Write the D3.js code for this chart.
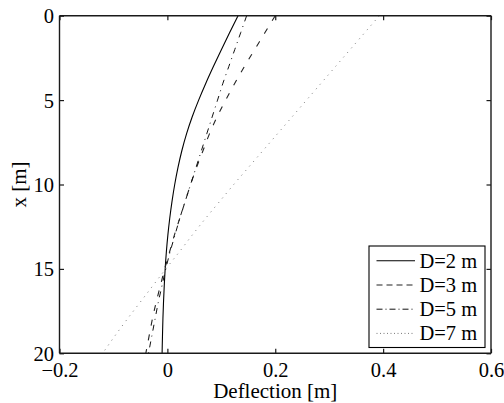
<!DOCTYPE html>
<html>
<head>
<meta charset="utf-8">
<script src="https://cdn.jsdelivr.net/npm/d3@7"></script>
<style>
  html, body { margin: 0; padding: 0; background: #fff; }
  svg { display: block; }
  text { font-family: "Liberation Serif", "Times New Roman", serif; fill: #000; }
</style>
</head>
<body>
<svg id="chart" width="504" height="403"></svg>
<script>
// ---- data ----
const depth = [0,1,2,3,4,5,6,7,8,9,10,11,12,13,14,15,16,17,18,19,20];
const defD2 = [0.131,0.1155,0.1003,0.0855,0.0713,0.058,0.0459,0.0355,0.0268,0.0196,0.0136,0.0086,0.0044,0.0009,-0.0019,-0.0041,-0.0058,-0.0072,-0.0083,-0.0091,-0.0098];
const defD3 = [0.200,0.181,0.162,0.143,0.125,0.108,0.092,0.078,0.066,0.054,0.043,0.033,0.023,0.013,0.004,-0.005,-0.013,-0.021,-0.028,-0.034,-0.040];
const defD5 = [0.147,0.136,0.125,0.114,0.103,0.093,0.083,0.073,0.063,0.053,0.043,0.033,0.023,0.014,0.005,-0.003,-0.010,-0.017,-0.023,-0.029,-0.035];
const defD7 = [0.393,0.366,0.339,0.312,0.285,0.258,0.231,0.204,0.177,0.150,0.123,0.097,0.071,0.046,0.022,-0.003,-0.027,-0.051,-0.075,-0.098,-0.120];
const seriesNames = ["D=2 m","D=3 m","D=5 m","D=7 m"];
const xTicks = [-0.2, 0, 0.2, 0.4, 0.6];
const xTickLabels = ["\u22120.2","0","0.2","0.4","0.6"];
const yTicks = [0, 5, 10, 15, 20];
const xLabel = "Deflection [m]";
const yLabel = "x [m]";

// ---- layout ----
const L = 59.5, R = 491, T = 15.7, B = 353.3;
const svg = d3.select("#chart");
const x = d3.scaleLinear().domain([-0.2, 0.6]).range([L, R]);
const y = d3.scaleLinear().domain([0, 20]).range([T, B]);

const styles = [
  { stroke: "#000", width: 1.1, dash: null, legDash: null },
  { stroke: "#222", width: 1.1, dash: "6,9", legDash: "6,4" },
  { stroke: "#111", width: 1.0, dash: "6,5,1,5", legDash: "6,3,1,3" },
  { stroke: "#777", width: 1.0, dash: "1,5", legDash: "1,2.5" }
];
const allSeries = [defD2, defD3, defD5, defD7];

// ---- curves ----
const line = d3.line()
  .x(d => x(d[1]))
  .y(d => y(d[0]))
  .curve(d3.curveMonotoneY);

allSeries.forEach((vals, i) => {
  const pts = depth.map((dd, k) => [dd, vals[k]]);
  svg.append("path")
    .attr("d", line(pts))
    .attr("fill", "none")
    .attr("stroke", styles[i].stroke)
    .attr("stroke-width", styles[i].width)
    .attr("stroke-dasharray", styles[i].dash);
});

// ---- axes (MATLAB box style, inward ticks on all sides) ----
const axColor = "#1a1a1a";
const fs = 20.5;
const tickLen = 4.5;

const gBottom = svg.append("g").attr("transform", `translate(0,${B})`)
  .call(d3.axisBottom(x).tickValues(xTicks).tickSize(-tickLen)
        .tickFormat((d, i) => xTickLabels[i]));
const gTop = svg.append("g").attr("transform", `translate(0,${T})`)
  .call(d3.axisTop(x).tickValues(xTicks).tickSize(-tickLen).tickFormat(""));
const gLeft = svg.append("g").attr("transform", `translate(${L},0)`)
  .call(d3.axisLeft(y).tickValues(yTicks).tickSize(-tickLen));
const gRight = svg.append("g").attr("transform", `translate(${R},0)`)
  .call(d3.axisRight(y).tickValues(yTicks).tickSize(-tickLen).tickFormat(""));

[gBottom, gTop, gLeft, gRight].forEach(g => {
  g.select(".domain").attr("stroke", axColor).attr("stroke-width", 1.4);
  g.selectAll(".tick line").attr("stroke", axColor).attr("stroke-width", 1.2);
  g.selectAll(".tick text").attr("font-size", fs).attr("fill", "#000");
});
gBottom.select(".domain").attr("d", `M${L},0H${R}`);
gTop.select(".domain").attr("d", `M${L},0H${R}`);
gLeft.select(".domain").attr("d", `M0,${T}V${B}`);
gRight.select(".domain").attr("d", `M0,${T}V${B}`);

// tick label positions
gBottom.selectAll(".tick text").attr("y", 23.5).attr("dy", null);
gLeft.selectAll(".tick text").attr("x", -5.5).attr("dy", "0.34em");

// ---- axis labels ----
svg.append("text")
  .attr("x", (L + R) / 2).attr("y", 398)
  .attr("text-anchor", "middle").attr("font-size", 21)
  .text(xLabel);
svg.append("text")
  .attr("transform", `translate(26,${(T + B) / 2}) rotate(-90)`)
  .attr("text-anchor", "middle").attr("font-size", 21)
  .text(yLabel);

// ---- legend ----
const lg = svg.append("g");
lg.append("rect")
  .attr("x", 369).attr("y", 246).attr("width", 116).attr("height", 101.5)
  .attr("fill", "#fff").attr("stroke", "#000").attr("stroke-width", 1.1);
seriesNames.forEach((name, i) => {
  const yy = 260.8 + i * 24.2;
  lg.append("line")
    .attr("x1", 376.5).attr("x2", 415).attr("y1", yy).attr("y2", yy)
    .attr("stroke", styles[i].stroke)
    .attr("stroke-width", styles[i].width)
    .attr("stroke-dasharray", styles[i].legDash);
  lg.append("text")
    .attr("x", 419.5).attr("y", yy + 6.8)
    .attr("font-size", fs)
    .text(name);
});
</script>
</body>
</html>
